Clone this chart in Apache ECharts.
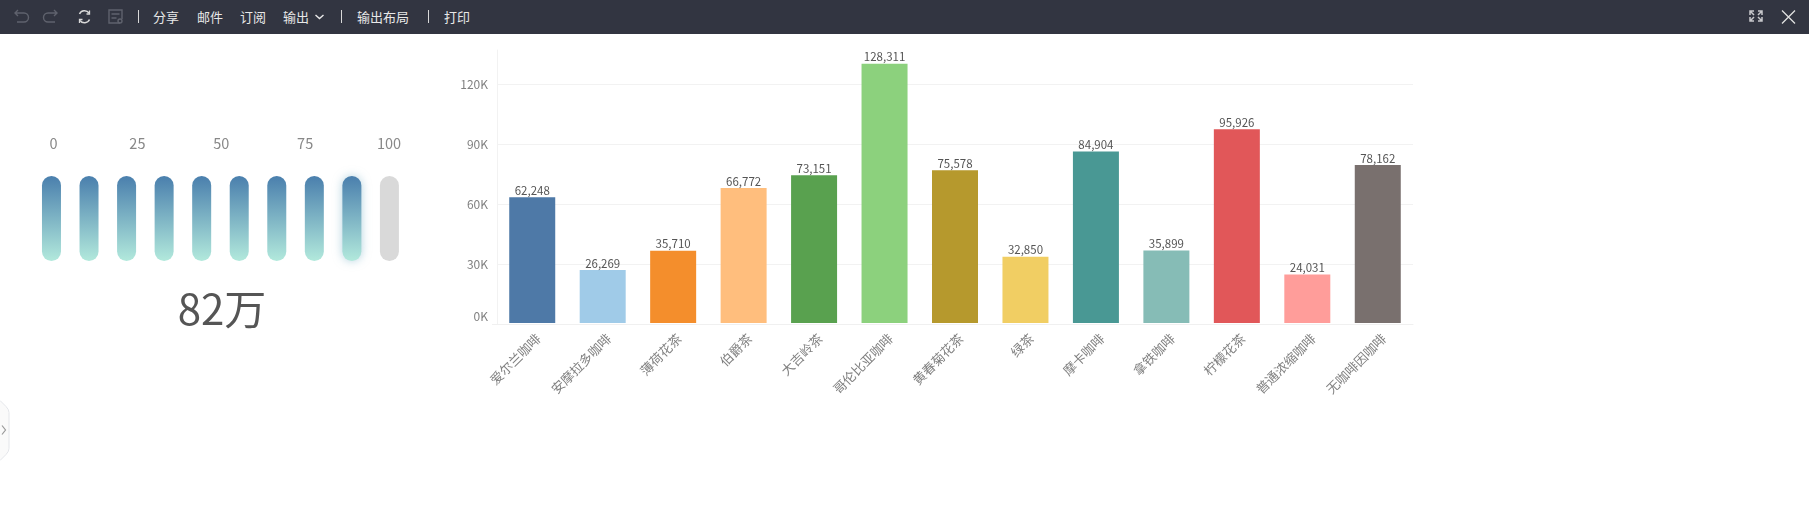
<!DOCTYPE html>
<html><head><meta charset="utf-8">
<script src="https://cdn.jsdelivr.net/npm/echarts@6/dist/echarts.min.js"></script>
<style>
html,body{margin:0;padding:0;background:#fff;overflow:hidden;width:1809px;height:517px;font-family:"Noto Sans CJK SC",sans-serif}
#chart{position:absolute;left:0;top:0;width:1809px;height:517px}
#bar{position:absolute;left:0;top:0;width:1809px;height:33.5px;background:#323541;color:#e8e8e8;font-size:13px;line-height:33px}
#bar span{position:absolute;top:0;white-space:nowrap}
#bar i{position:absolute;top:10px;height:13px;width:1px;background:#d8d8d8}
#bar svg{position:absolute;left:0;top:0}
#side{position:absolute;left:0;top:400px}
</style></head><body>
<div id="chart"></div>
<div id="bar">
<svg width="1809" height="33" fill="none" stroke-width="1.4">
<path d="M17 11l-3 3 3 3M14 14h9a4 4 0 0 1 0 9h-7" stroke="#5f626d" transform="translate(1 -1)"/>
<path d="M53 11l3 3-3 3M56 14h-9a4 4 0 0 0 0 9h7" stroke="#5f626d" transform="translate(1 -1)"/>
<path d="M79.500 14a5.500 5.500 0 0 1 9.500 -1M89.500 19.500a5.500 5.500 0 0 1-9.500 1" stroke="#d8d8d8" stroke-width="1.500"/>
<path d="M89.500 10.500v3.500h-3M79.500 23v-3.500h3" stroke="#d8d8d8" stroke-width="1.300"/>
<path d="M120 23h-11v-13h13v9M111.500 14h8M111.500 18h5" stroke="#5f626d"/>
<circle cx="120" cy="21" r="2" stroke="#5f626d"/>
<path d="M315.500 15l4 3.500 4-3.500" stroke="#e8e8e8"/>
<path d="M1750 11l4 4M1754 11h-4v4M1762 11l-4 4M1758 11h4v4M1750 21l4-4M1750 17v4h4M1762 21l-4-4M1762 17v4h-4" stroke="#c8c8cc" stroke-width="1.500"/>
<path d="M1782 10.500l13 13M1795 10.500l-13 13" stroke="#e0e0e0" stroke-width="1.300"/>
</svg>
<i style="left:138px"></i><i style="left:341px"></i><i style="left:428px"></i>
<span style="left:153px">分享</span><span style="left:197px">邮件</span><span style="left:240px">订阅</span>
<span style="left:283px">输出</span><span style="left:357px">输出布局</span><span style="left:444px">打印</span>
</div>
<svg id="side" width="14" height="62" fill="none">
<path d="M0 .5l6 6q3 3 3 6v36q0 3-3 6l-6 6" stroke="#e4e6ea" fill="#fafafa"/>
<path d="M2 25.500l3.500 4.500-3.500 4.500" stroke="#999" stroke-width="1.200"/>
</svg>
<script>
var categories=['爱尔兰咖啡','安摩拉多咖啡','薄荷花茶','伯爵茶','大吉岭茶','哥伦比亚咖啡','黄春菊花茶','绿茶','摩卡咖啡','拿铁咖啡','柠檬花茶','普通浓缩咖啡','无咖啡因咖啡'];
var salesValues=[62248,26269,35710,66772,73151,128311,75578,32850,84904,35899,95926,24031,78162];
var barColors=['#4e79a7','#a0cbe8','#f48e2c','#ffbe7d','#59a14f','#8cd17d','#b6992d','#f1ce63','#499894','#86bcb6','#e15759','#ff9d9a','#79706e'];
var yTicks=[0,30000,60000,90000,120000];
var gaugeTicks=[0,25,50,75,100];
var gaugeSegments=['1','2','3','4','5','6','7','8','9','10'];
var gaugeFilled=[1,1,1,1,1,1,1,1,1,0];
var gaugeLabel='82万';

var FONT='"Noto Sans CJK SC","Noto Sans",sans-serif';
var grad={type:'linear',x:0,y:0,x2:0,y2:1,colorStops:[{offset:0,color:'#4a7fad'},{offset:1,color:'#b2e9dc'}]};
var chart=echarts.init(document.getElementById('chart'),null,{renderer:'canvas'});
chart.setOption({
 animation:false,
 textStyle:{fontFamily:FONT},
 title:{text:gaugeLabel,left:217,top:283,textAlign:'center',textStyle:{fontFamily:FONT,fontSize:42,fontWeight:'normal',color:'#555'}},
 graphic:[{type:'line',silent:true,shape:{x1:492,y1:324.5,x2:497,y2:324.5},style:{stroke:'#f0f0f0',lineWidth:1}}],
 grid:[
  {left:497,width:916,top:50,height:274},
  {left:32.7,width:375.500,top:176,height:85},
  {left:53.5,width:335.500,top:160,height:1}
 ],
 xAxis:[
  {type:'category',gridIndex:0,data:categories,
   axisLine:{lineStyle:{color:'#f0f0f0'}},
   axisTick:{alignWithLabel:true,length:3,lineStyle:{color:'#e8e8e8'}},
   axisLabel:{rotate:45,interval:0,margin:9,fontSize:13,color:'#808080',fontFamily:FONT,verticalAlign:'top',padding:[0,-2,0,0]}},
  {type:'category',gridIndex:1,data:gaugeSegments,show:false},
  {type:'value',gridIndex:2,min:0,max:100,interval:25,position:'top',
   axisLine:{show:false},axisTick:{show:false},splitLine:{show:false},
   axisLabel:{margin:9,fontSize:14.500,color:'#888',fontFamily:FONT}}
 ],
 yAxis:[
  {type:'value',gridIndex:0,min:0,max:137000,
   axisLine:{show:true,lineStyle:{color:'#f2f2f2'}},
   axisTick:{show:false,customValues:yTicks},
   splitLine:{show:true,lineStyle:{color:'#f2f2f2'}},
   axisLabel:{customValues:yTicks,margin:9,fontSize:12,color:'#808080',fontFamily:FONT,
     rich:{up:{fontSize:12,color:'#808080',fontFamily:FONT,padding:[0,0,16,0]}},
     formatter:function(v){var s=(v/1000)+'K';return v===0?'{up|'+s+'}':s;}}},
  {type:'value',gridIndex:0,min:-500,max:135140,show:false,splitLine:{show:false}},
  {type:'value',gridIndex:1,min:0,max:1,show:false,splitLine:{show:false}},
  {type:'value',gridIndex:2,show:false,splitLine:{show:false}}
 ],
 series:[
  {type:'bar',xAxisIndex:0,yAxisIndex:1,barWidth:46,
   data:salesValues.map(function(v,i){return {value:v,itemStyle:{color:barColors[i]}};}),
   label:{show:true,position:'top',distance:1,fontSize:11.500,color:'#555',fontFamily:FONT,formatter:function(p){return echarts.format.addCommas(p.value);}}},
  {type:'bar',xAxisIndex:1,yAxisIndex:2,barWidth:19,silent:true,
   showBackground:false,
   data:gaugeFilled.map(function(v,i){
     var last=i===gaugeFilled.lastIndexOf(1);
     return {value:1,itemStyle:{borderRadius:9.5,color:v?grad:'#d9d9d9',
       shadowBlur:last?10:0,shadowColor:last?'rgba(100,165,190,0.5)':'transparent'}};
   })}
 ]
});
</script>
</body></html>
